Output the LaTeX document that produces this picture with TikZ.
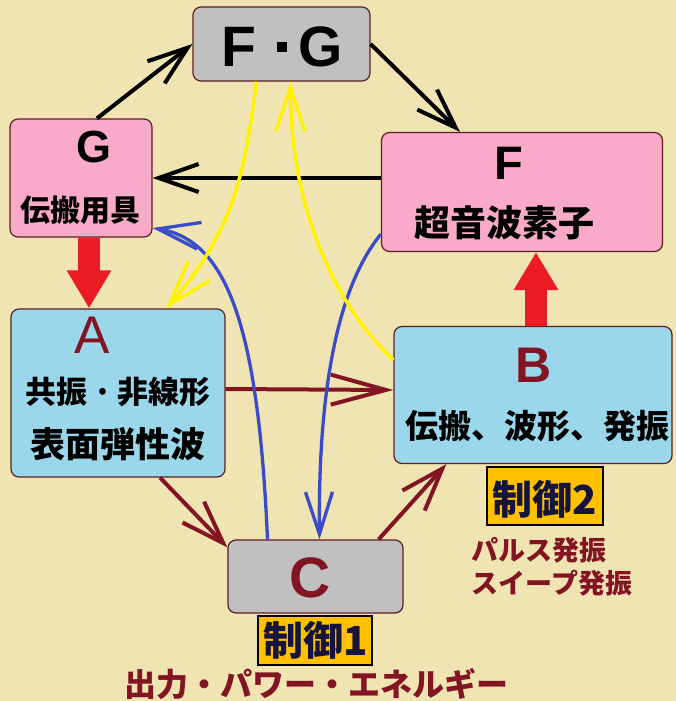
\documentclass[tikz,border=0pt]{standalone}
\usepackage{fontspec}
\setmainfont{Noto Sans CJK JP}
\newfontfamily\lat{Liberation Sans}
\usepackage{tikz}
\usetikzlibrary{arrows.meta}

\definecolor{bgcol}{RGB}{240,228,178}
\definecolor{pinkbox}{RGB}{248,170,200}
\definecolor{bluebox}{RGB}{155,215,235}
\definecolor{graybox}{RGB}{192,192,192}
\definecolor{ctlorange}{RGB}{255,192,0}
\definecolor{boxline}{RGB}{90,30,35}
\definecolor{darkred}{RGB}{130,20,35}
\definecolor{flowred}{RGB}{236,28,36}
\definecolor{flowblue}{RGB}{60,75,200}
\definecolor{flowyellow}{RGB}{255,242,0}
\definecolor{navy}{RGB}{20,20,60}

\newcommand\fsz[1]{\fontsize{#1}{#1}\selectfont}

\begin{document}
\begin{tikzpicture}[x=1pt,y=-1pt,
  box/.style={draw=boxline,line width=1.2pt,rounded corners=8pt,inner sep=0pt},
  ctlbox/.style={draw=black,line width=2pt,fill=ctlorange,inner sep=0pt},
  txt/.style={inner sep=0pt},
  blk/.style={line width=4pt,-{Straight Barb[length=40pt,width=28pt]}},
  drk/.style={draw=darkred,line width=4pt,-{Straight Barb[length=43pt,width=30pt]}},
  fat/.style={draw=flowred,line width=22pt,-{Triangle[length=38pt,width=42pt]}},
  blu/.style={draw=flowblue,line width=3.3pt,-{Straight Barb[length=42pt,width=27pt]}},
  ylw/.style={draw=flowyellow,line width=3.5pt,-{Straight Barb[length=44pt,width=29pt]}}]

  \fill[bgcol] (0,0) rectangle (676,701);

  % boxes
  \node[box,fill=graybox,minimum width=177pt,minimum height=74pt] (fg) at (281.5,44) {};
  \node[box,fill=pinkbox,minimum width=142pt,minimum height=118pt] (g) at (81,178) {};
  \node[box,fill=pinkbox,minimum width=281pt,minimum height=119pt] (f) at (522,192) {};
  \node[box,fill=bluebox,minimum width=214pt,minimum height=168pt] (a) at (118,393) {};
  \node[box,fill=bluebox,minimum width=278pt,minimum height=137pt] (b) at (533,395) {};
  \node[box,fill=graybox,minimum width=175pt,minimum height=73pt] (c) at (315.5,576.5) {};
  \node[ctlbox,minimum width=116pt,minimum height=58pt] (ctl2) at (545,496) {};
  \node[ctlbox,minimum width=114pt,minimum height=49pt] (ctl1) at (315,640) {};

  % texts
  \node[txt] (fglab) at (282.5,47) {\lat\bfseries\fsz{57}F\hspace{20pt}\raisebox{15pt}{\rule{10pt}{10pt}}\hspace{12pt}G};
  \node[txt] (glab) at (94,147) {\lat\bfseries\fsz{45}G};
  \node[txt] (gtext) at (80,210) {\bfseries\fsz{30}伝搬用具};
  \node[txt] (flab) at (509,163) {\lat\bfseries\fsz{47}F};
  \node[txt] (ftext) at (504,223) {\bfseries\fsz{36}超音波素子};
  \node[txt,text=darkred] (alab) at (92.5,335) {\lat\fsz{53}A};
  \node[txt] (atext1) at (118,392) {\bfseries\fsz{31}共振\,·\,非線形};
  \node[txt] (atext2) at (118,444) {\bfseries\fsz{35}表面弾性波};
  \node[txt,text=darkred] (blab) at (533.5,365) {\lat\bfseries\fsz{50}B};
  \node[txt] (btext) at (537,426) {\bfseries\fsz{33}伝搬、波形、発振};
  \node[txt,text=darkred] (clab) at (310.5,577.5) {\lat\bfseries\fsz{57}C};
  \node[txt,text=navy] (ctl2lab) at (545,499) {\bfseries\fsz{40}制御2};
  \node[txt,text=navy] (ctl1lab) at (316,640) {\bfseries\fsz{40}制御1};
  \node[txt,text=darkred] (pulse) at (539,550) {\bfseries\fsz{27}パルス発振};
  \node[txt,text=darkred] (sweep) at (552,583) {\bfseries\fsz{27}スイープ発振};
  \node[txt,text=darkred] (power) at (316,684) {\bfseries\fsz{32}出力・パワー・エネルギー};

  % black arrows
  \draw[blk] ([xshift=16pt]g.north) -- (fg.west);
  \draw[blk] (fg.east) -- ([xshift=-62pt]f.north);
  \draw[blk] (f.west |- g.east) -- (g.east);

  % red arrows
  \draw[fat] ([xshift=8pt]g.south) -- ([xshift=-29pt]a.north);
  \draw[fat] ([xshift=3pt]b.north) -- ([xshift=14pt]f.south);

  % dark red arrows
  \draw[drk,-{Straight Barb[length=55pt,width=30pt]}] ([yshift=4pt]a.east) -- ([yshift=5pt]b.west);
  \draw[drk] ([xshift=42pt]a.south) -- ([yshift=-8pt]c.north west);
  \draw[drk] ([xshift=-25pt]c.north east) -- ([xshift=53pt]b.south west);

  % blue curves
  \draw[blu] ([xshift=-48pt]c.north) .. controls (258,320) and (225,240) .. ([yshift=-50pt]g.east);
  \draw[blu] ([yshift=18pt]f.south west) .. controls (335,290) and (318,400) .. ([xshift=4pt]c.north);

  % yellow curves
  \draw[ylw] ([xshift=-25pt]fg.south) .. controls (245,170) and (235,230) .. ([xshift=48pt]a.north);
  \draw[ylw] ([yshift=35pt]b.west) .. controls (330,300) and (290,200) .. ([xshift=9pt]fg.south);
\end{tikzpicture}
\end{document}
